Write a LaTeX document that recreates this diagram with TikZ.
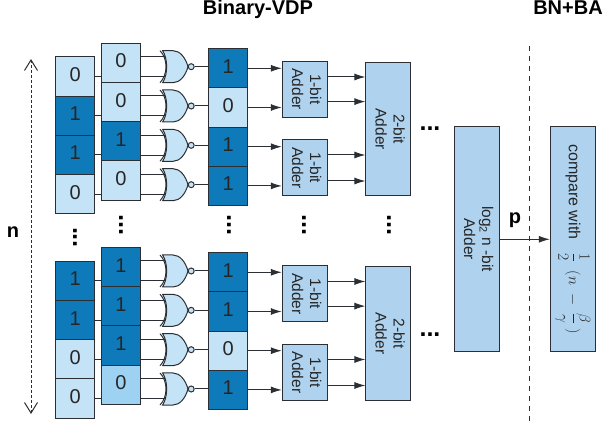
\documentclass[tikz,border=0pt]{standalone}
\usepackage{fontspec}
\setmainfont{Liberation Sans}
\usetikzlibrary{arrows.meta,calc}
\definecolor{lite}{HTML}{C4E3F6}
\definecolor{mid}{HTML}{9DD2F3}
\definecolor{dark}{HTML}{0F7ABA}
\definecolor{addr}{HTML}{AFD3EF}
\definecolor{edge}{HTML}{2B2F33}
\tikzset{
  cell/.style={draw=edge,line width=1pt,minimum width=39.2pt,minimum height=39.2pt,inner sep=0pt,text height=14pt,text depth=4pt,font=\fontsize{20}{20}\selectfont,text=black!85},
  zerocell/.style={cell,fill=lite},
  midcell/.style={cell,fill=mid},
  onecell/.style={cell,fill=dark},
  adderbox/.style={draw=edge,line width=1pt,fill=addr,inner sep=0pt,align=center,font=\fontsize{15.5}{18}\selectfont,text=black!85},
  wire/.style={line width=1pt,draw=edge},
  sig/.style={line width=1pt,draw=edge,-{Latex[length=11pt,width=7pt]}},
  vdots/.style={inner sep=0pt,font=\bfseries\fontsize{25}{25}\selectfont},
  heading/.style={inner sep=0pt,anchor=base,font=\bfseries\fontsize{20}{20}\selectfont},
  letter/.style={inner sep=0pt,font=\bfseries\fontsize{20}{20}\selectfont},
  norgate/.pic={
    \coordinate (-in1) at (4.5,-10);
    \coordinate (-in2) at (4.5,10);
    \coordinate (-out) at (35,0);
    \path[fill=lite,draw=edge,line width=1pt]
      (2.6,-16) -- (13,-16) .. controls (20,-16) and (25.5,-9) .. (28,0)
      .. controls (25.5,9) and (20,16) .. (13,16) -- (2.6,16)
      .. controls (8,8) and (8,-8) .. (2.6,-16) -- cycle;
    \draw[edge,line width=1pt] (0,-16) .. controls (8,-8) and (8,8) .. (0,16);
    \draw[edge,line width=1pt,fill=lite] (31.2,0) circle (3);
  }
}
\newcommand{\twoline}[2]{\rotatebox{-90}{\begin{tabular}{@{}c@{}}#1\\#2\end{tabular}}}
\begin{document}
\begin{tikzpicture}[x=1pt,y=-1pt]
\useasboundingbox (0,0) rectangle (605,427);
% headings
\node[heading] (h1) at (258,15) {Binary-VDP};
\node[heading] (h2) at (568,15) {BN+BA};
% column A
\node[zerocell] (a1) at (75.2,76.6) {0};
\node[onecell] (a2) at (75.2,115.8) {1};
\node[onecell] (a3) at (75.2,155) {1};
\node[zerocell] (a4) at (75.2,194.2) {0};
\node[onecell] (a5) at (75.2,280.9) {1};
\node[onecell] (a6) at (75.2,320.1) {1};
\node[zerocell] (a7) at (75.2,359.3) {0};
\node[zerocell] (a8) at (75.2,398.5) {0};
% column B
\node[zerocell] (b1) at (121,62.9) {0};
\node[zerocell] (b2) at (121,102.1) {0};
\node[onecell] (b3) at (121,141.3) {1};
\node[zerocell] (b4) at (121,180.5) {0};
\node[onecell] (b5) at (121,267.2) {1};
\node[onecell] (b6) at (121,306.4) {1};
\node[onecell] (b7) at (121,345.6) {1};
\node[midcell] (b8) at (121,384.8) {0};
% column C
\node[onecell] (c1) at (228.3,68.3) {1};
\node[zerocell] (c2) at (228.3,107.5) {0};
\node[onecell] (c3) at (228.3,146.7) {1};
\node[onecell] (c4) at (228.3,185.9) {1};
\node[onecell] (c5) at (228.3,272.3) {1};
\node[onecell] (c6) at (228.3,311.5) {1};
\node[zerocell] (c7) at (228.3,350.7) {0};
\node[onecell] (c8) at (228.3,389.9) {1};
% gates
\pic (g1) at (160,66.7) {norgate};
\pic (g2) at (160,106) {norgate};
\pic (g3) at (160,145.3) {norgate};
\pic (g4) at (160,184.7) {norgate};
\pic (g5) at (160,271) {norgate};
\pic (g6) at (160,310.3) {norgate};
\pic (g7) at (160,349.7) {norgate};
\pic (g8) at (160,389) {norgate};
\foreach \i in {1,...,8}{
  \draw[wire] (a\i.east) -- (a\i.east -| b\i.west);
  \draw[wire] (g\i-in1 -| b\i.east) -- (g\i-in1);
  \draw[wire] (g\i-in2 -| b\i.east) -- (g\i-in2);
  \draw[wire] (g\i-out) -- (g\i-out -| c\i.west);
}
% 1-bit adders
\node[adderbox,minimum width=45pt,minimum height=56pt] (p1) at (304.8,89.3) {\twoline{1-bit}{Adder}};
\node[adderbox,minimum width=45pt,minimum height=56pt] (p2) at (304.8,168) {\twoline{1-bit}{Adder}};
\node[adderbox,minimum width=45pt,minimum height=56pt] (p3) at (304.8,293.8) {\twoline{1-bit}{Adder}};
\node[adderbox,minimum width=45pt,minimum height=56pt] (p4) at (304.8,372.5) {\twoline{1-bit}{Adder}};
% 2-bit adders
\node[adderbox,minimum width=44.7pt,minimum height=133pt] (t1) at (388.3,129.2) {\twoline{2-bit}{Adder}};
\node[adderbox,minimum width=44.7pt,minimum height=133.3pt] (t2) at (388.3,333.6) {\twoline{2-bit}{Adder}};
% log adder and comparator
\node[adderbox,minimum width=45pt,minimum height=225.3pt] (lg) at (476.8,239.3) {\twoline{log\textsubscript{2} n -bit}{Adder}};
\node[adderbox,minimum width=45pt,minimum height=225.3pt] (cmp) at (572.8,239.3) {\rotatebox{-90}{\fontsize{16}{18}\selectfont compare with\ \ \ \scalebox{0.9}{$\displaystyle\frac{1}{2}\;\;(n\;-\;\frac{\beta}{\gamma}\;)$}}};
% arrows column C to 1-bit adders
\draw[sig] (c1.east) -- (c1.east -| p1.west);
\draw[sig] (c2.east) -- (c2.east -| p1.west);
\draw[sig] (c3.east) -- (c3.east -| p2.west);
\draw[sig] (c4.east) -- (c4.east -| p2.west);
\draw[sig] (c5.east) -- (c5.east -| p3.west);
\draw[sig] (c6.east) -- (c6.east -| p3.west);
\draw[sig] (c7.east) -- (c7.east -| p4.west);
\draw[sig] (c8.east) -- (c8.east -| p4.west);
% arrows 1-bit to 2-bit
\coordinate (p1a) at ($(p1.east)+(0,-12.3)$);
\coordinate (p1b) at ($(p1.east)+(0,12.3)$);
\coordinate (p2a) at ($(p2.east)+(0,-13)$);
\coordinate (p2b) at ($(p2.east)+(0,13)$);
\coordinate (p3a) at ($(p3.east)+(0,-12.3)$);
\coordinate (p3b) at ($(p3.east)+(0,12.3)$);
\coordinate (p4a) at ($(p4.east)+(0,-13)$);
\coordinate (p4b) at ($(p4.east)+(0,13)$);
\draw[sig] (p1a) -- (p1a -| t1.west);
\draw[sig] (p1b) -- (p1b -| t1.west);
\draw[sig] (p2a) -- (p2a -| t1.west);
\draw[sig] (p2b) -- (p2b -| t1.west);
\draw[sig] (p3a) -- (p3a -| t2.west);
\draw[sig] (p3b) -- (p3b -| t2.west);
\draw[sig] (p4a) -- (p4a -| t2.west);
\draw[sig] (p4b) -- (p4b -| t2.west);
% p arrow
\draw[sig] (lg.east) -- (cmp.west);
\node[letter] (plabel) at (515,220.5) {p};
% separator
\coordinate (s1) at (529,46);
\coordinate (s2) at (529,422);
\draw[edge,line width=1pt,dash pattern=on 5pt off 5pt] (s1) -- (s2);
% n arrow
\coordinate (n1) at (31,60);
\coordinate (n2) at (31,413);
\draw[edge,line width=0.8pt,dash pattern=on 3pt off 2pt] (n1) -- (n2);
\draw[edge,line width=1pt] (24.5,70.5) -- (n1) -- (37.5,70.5);
\draw[edge,line width=1pt] (24.5,402.5) -- (n2) -- (37.5,402.5);
\node[letter] (nlabel) at (13,232) {n};
% dots
\node[vdots,rotate=90] (d1) at (75,237.5) {...};
\node[vdots,rotate=90] (d2) at (121,225) {...};
\node[vdots,rotate=90] (d3) at (229,225) {...};
\node[vdots,rotate=90] (d4) at (304,225) {...};
\node[vdots,rotate=90] (d5) at (389,225) {...};
\node[vdots] (d6) at (430,128.5) {...};
\node[vdots] (d7) at (430,335) {...};
\end{tikzpicture}
\end{document}
